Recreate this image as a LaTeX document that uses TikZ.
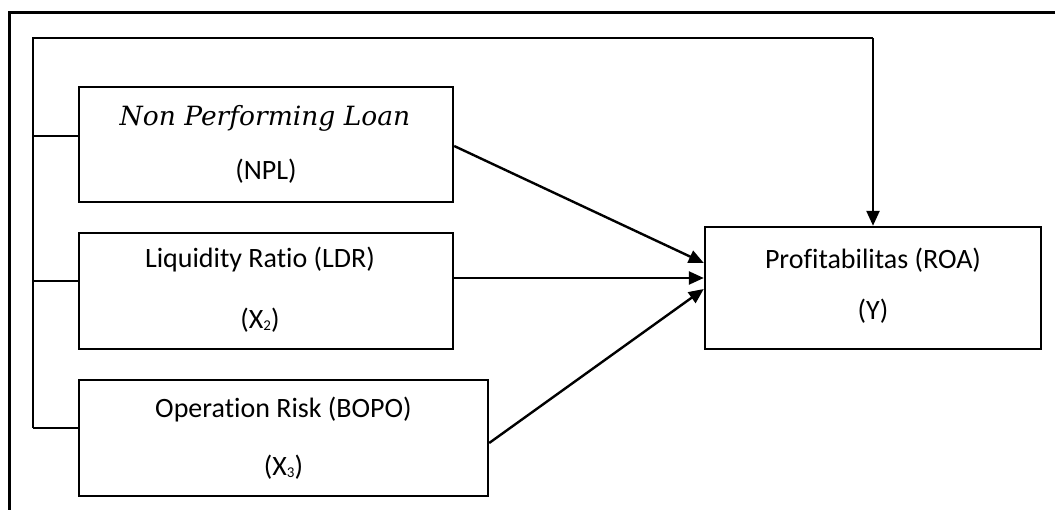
\documentclass[tikz,border=0pt]{standalone}
\usepackage{fontspec}
\setmainfont{Carlito}[Ligatures={NoCommon}]
\newfontfamily\serifit{DejaVu Serif}
\usetikzlibrary{arrows.meta}
\newcommand{\sbs}[1]{\raisebox{-2pt}{\fontsize{15}{15}\selectfont #1}}
\tikzset{
  box/.style={draw=black, line width=2.4pt, rectangle, inner sep=0pt},
  txt/.style={inner sep=0pt, font=\fontsize{28}{32}\selectfont},
  conn/.style={draw=black, line width=2.4pt},
  arr/.style={conn, -{Triangle[length=15pt,width=13pt]}},
  frame/.style={draw=black, line width=3pt}
}
\begin{document}
\begin{tikzpicture}[x=1pt,y=-1pt]
\useasboundingbox (0,0) rectangle (1055,510);
% outer frame
\draw[frame] (9,512) -- (9,13) -- (1057,13);
% boxes
\node[box, minimum width=374pt, minimum height=115pt] (npl) at (266,144.5) {};
\node[box, minimum width=374pt, minimum height=116pt] (ldr) at (266,291) {};
\node[box, minimum width=409pt, minimum height=116pt] (bopo) at (283.5,438) {};
\node[box, minimum width=336pt, minimum height=122pt] (roa) at (873,288) {};
% texts
\node[txt, font=\serifit\itshape\fontsize{26.5}{30}\selectfont] (t1a) at (265,118) {Non Performing Loan};
\node[txt] (t1b) at (266,171) {(NPL)};
\node[txt] (t2a) at (260,260) {Liquidity Ratio (LDR)};
\node[txt] (t2b) at (260,320) {(X\sbs{2})};
\node[txt] (t3a) at (283.5,410) {Operation Risk (BOPO)};
\node[txt] (t3b) at (283.5,467) {(X\sbs{3})};
\node[txt] (t4a) at (873,260) {Profitabilitas (ROA)};
\node[txt] (t4b) at (873,311) {(Y)};
% bus
\coordinate (b0) at (33,38);
\coordinate (b1) at (33,136);
\coordinate (b2) at (33,281);
\coordinate (b3) at (33,428);
\coordinate (top) at (873,38);
\draw[conn] (b3) -- (b0) -- (top);
\draw[arr] (top) -- (roa.north);
\draw[conn] (b1) -- (b1 -| npl.west);
\draw[conn] (b2) -- (b2 -| ldr.west);
\draw[conn] (b3) -- (b3 -| bopo.west);
% arrows to ROA
\coordinate (n1) at (npl.east |- 0,146);
\coordinate (r1) at (roa.west |- 0,263);
\coordinate (n2) at (ldr.east |- 0,278);
\coordinate (r2) at (roa.west |- 0,278);
\coordinate (n3) at (bopo.east |- 0,443);
\coordinate (r3) at (roa.west |- 0,289);
\draw[arr] (n1) -- (r1);
\draw[arr] (n2) -- (r2);
\draw[arr] (n3) -- (r3);
\end{tikzpicture}
\end{document}
